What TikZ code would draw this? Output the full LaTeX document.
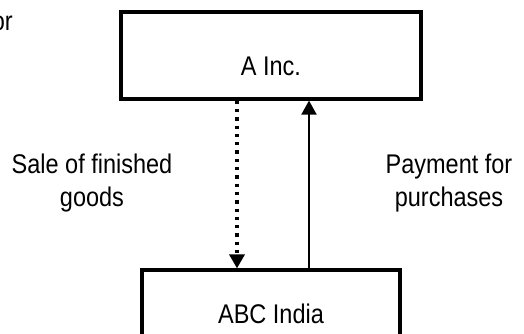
\documentclass[tikz,border=0pt]{standalone}
\usepackage{fontspec}
\setmainfont{Liberation Sans}[FakeStretch=0.87]
\usetikzlibrary{arrows.meta}
\begin{document}
\begin{tikzpicture}[x=1pt,y=-1pt,
  entity/.style={draw, line width=3.2pt, inner sep=0pt},
  lbl/.style={font=\fontsize{27}{33}\selectfont, inner sep=0pt, align=center},
  tip/.style={-{Triangle[width=15pt,length=14pt]}},
  goodsflow/.style={tip, line width=3.3pt, line cap=butt, dash pattern=on 3.3pt off 5pt},
  cashflow/.style={tip, line width=2pt}]
  \useasboundingbox (0,0) rectangle (524,334);

  % the two companies
  \node[entity, minimum width=300pt, minimum height=87pt] (ainc) at (271,55.5) {};
  \node[entity, minimum width=258pt, minimum height=88pt] (abc) at (271,314) {};
  \node[lbl, anchor=base] (aincname) at (271,76) {A Inc.};
  \node[lbl, anchor=base] (abcname) at (271,323) {ABC India};

  % flows between them
  \draw[goodsflow] ([xshift=-34pt]ainc.south) -- ([xshift=-34pt]abc.north);
  \draw[cashflow] ([xshift=38pt]abc.north) -- ([xshift=38pt]ainc.south);

  % flow descriptions (base anchor sits on the last line)
  \node[lbl, anchor=base] (salelbl) at (92,206) {Sale of finished\\goods};
  \node[lbl, anchor=base] (paylbl) at (449,206) {Payment for\\purchases};

  % fragment at the left edge
  \node[lbl, anchor=base east] (orfrag) at (13,31) {or};
\end{tikzpicture}
\end{document}
